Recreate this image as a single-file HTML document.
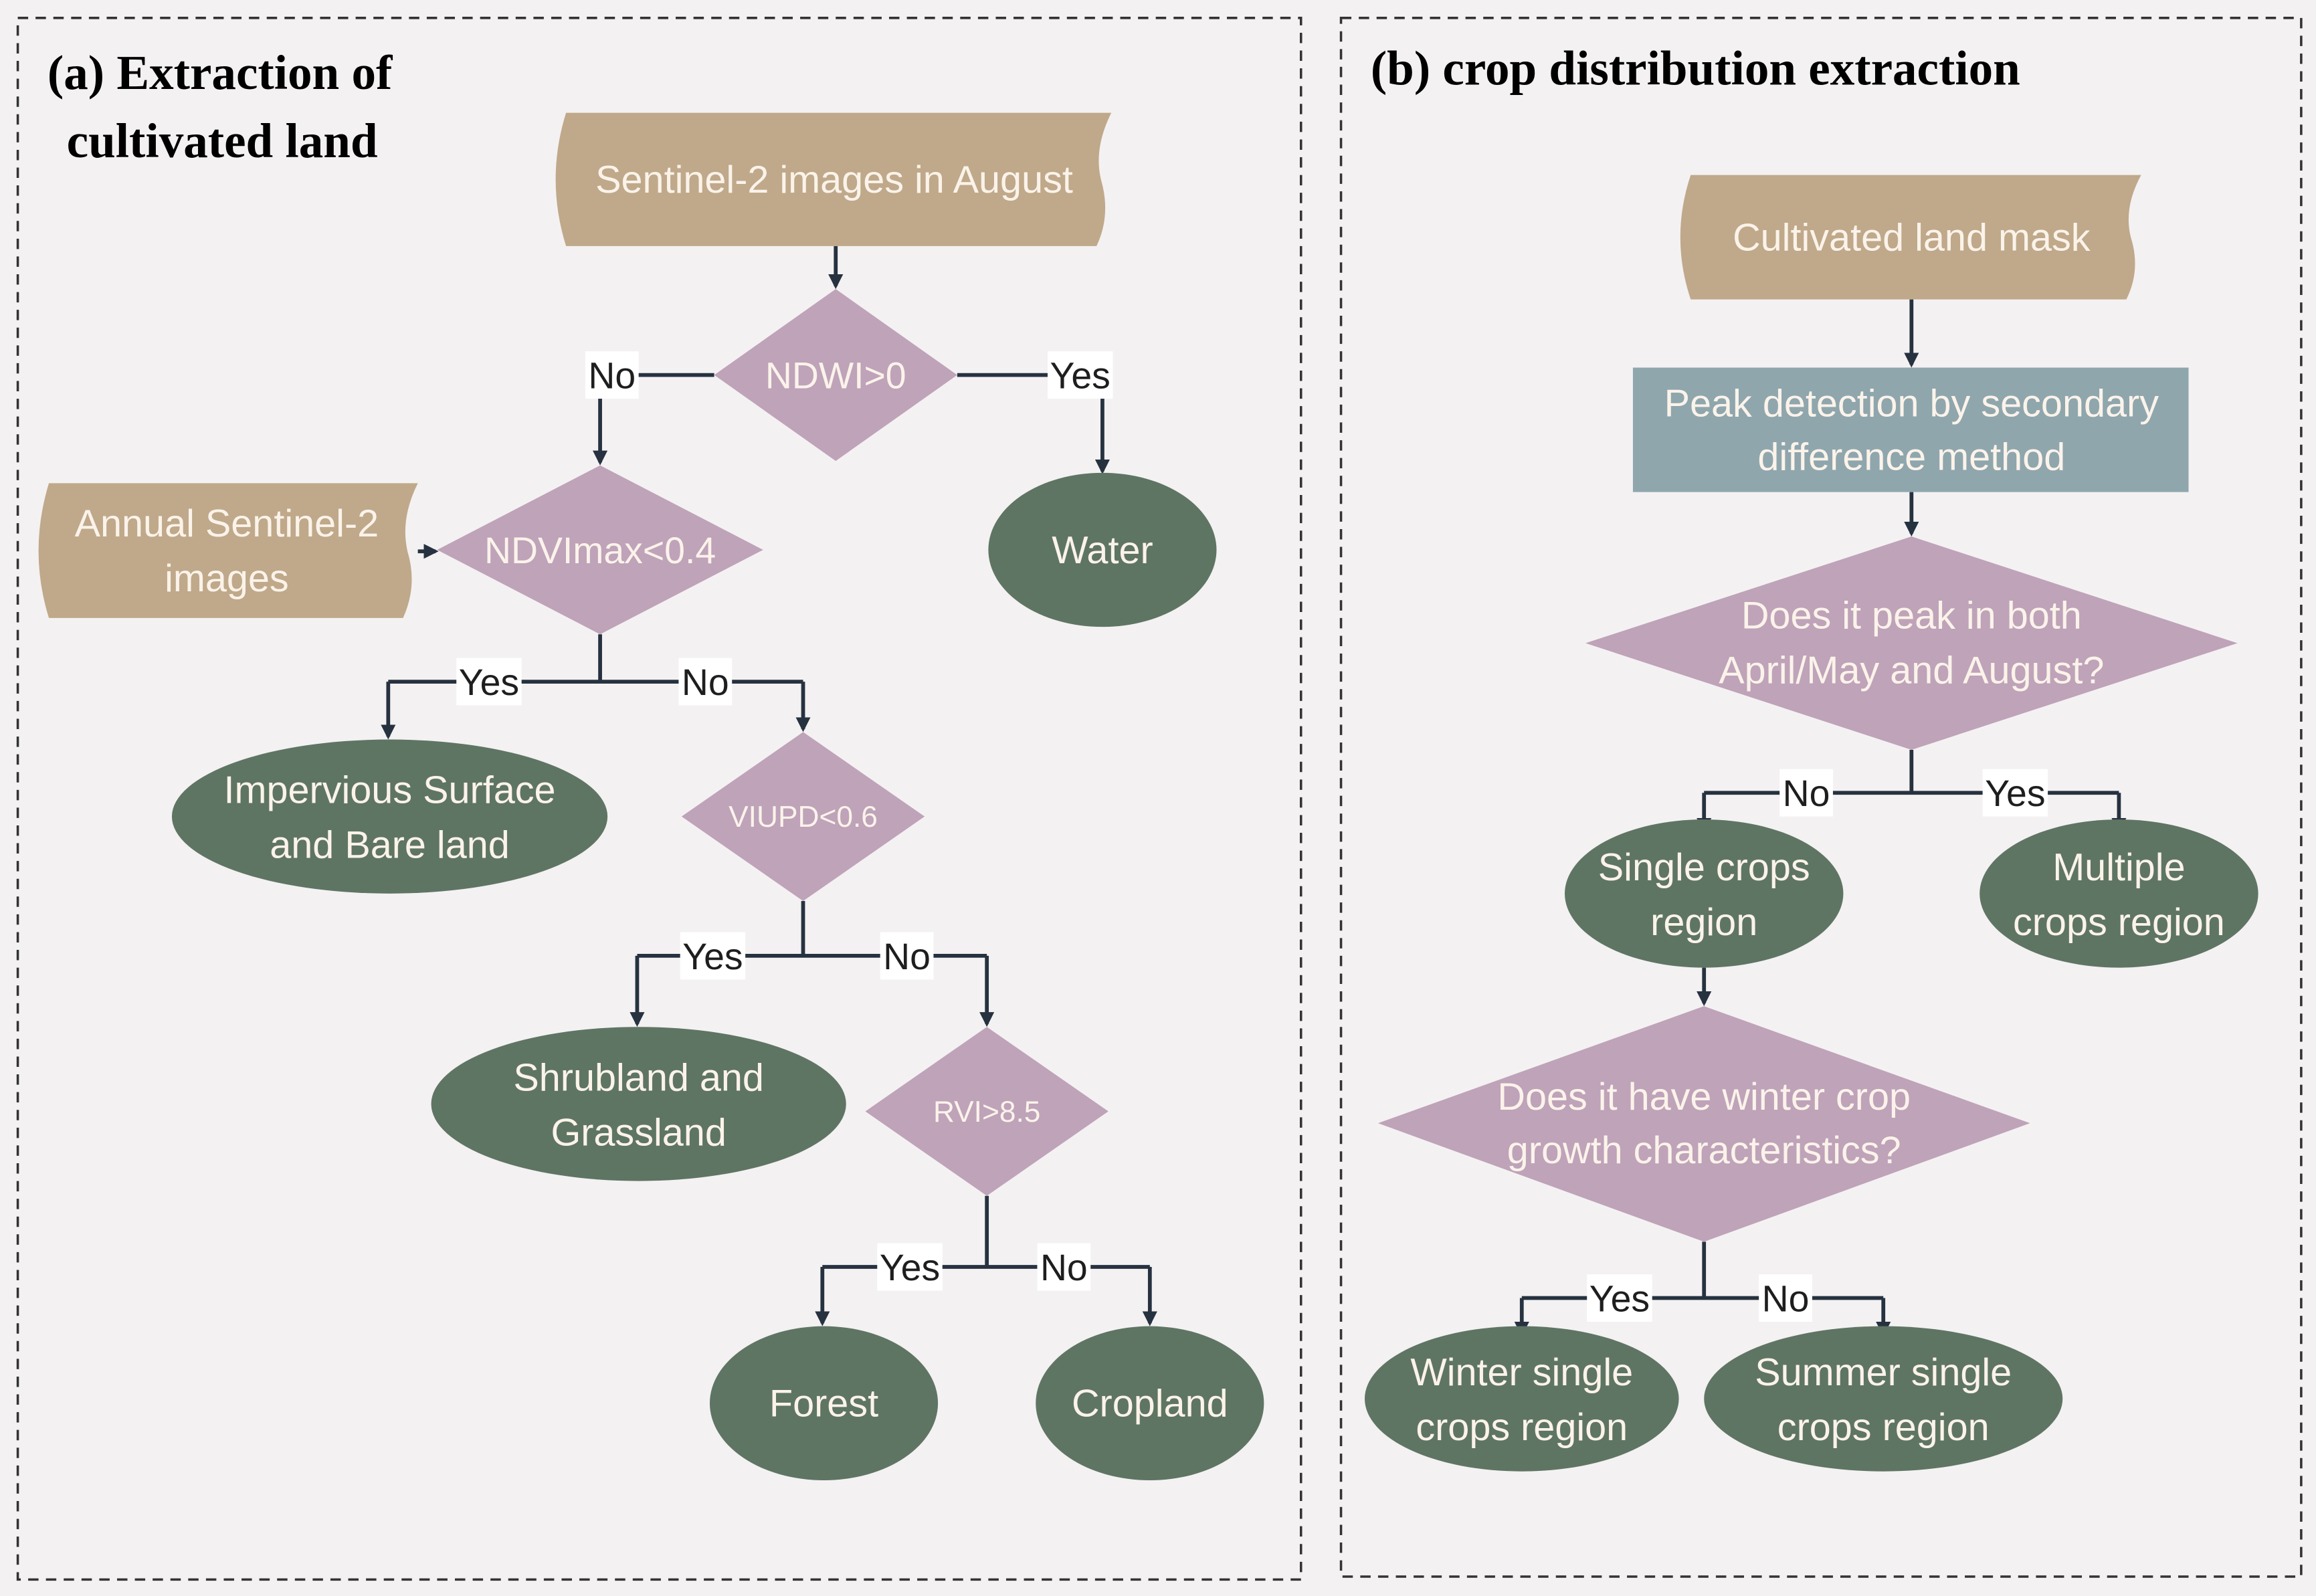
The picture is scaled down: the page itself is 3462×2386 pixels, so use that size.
<!DOCTYPE html>
<html><head><meta charset="utf-8"><style>
html,body{margin:0;padding:0;background:#f4f1f2;}
svg{display:block;}
.t{font-family:"Liberation Sans",sans-serif;fill:#fbf3ea;text-anchor:middle;}
.l{font-family:"Liberation Sans",sans-serif;fill:#1e1e1e;text-anchor:middle;font-size:25px;}
.h{font-family:"Liberation Serif",serif;font-weight:bold;fill:#000;font-size:33px;}
.c{stroke:#263240;stroke-width:2.6;fill:none;}
</style></head><body>
<svg width="3462" height="2386" viewBox="0 0 1563 1077" xmlns="http://www.w3.org/2000/svg">
<defs><marker id="a" markerWidth="10" markerHeight="10" refX="8" refY="5" orient="auto" markerUnits="userSpaceOnUse"><path d="M0,0 L10,5 L0,10 Z" fill="#263240"/></marker></defs>
<rect width="1563" height="1077" fill="#f4f1f2"/>
<rect x="12" y="12" width="866" height="1054" fill="none" stroke="#333" stroke-width="1.6" stroke-dasharray="7,5"/>
<rect x="905" y="12" width="648" height="1052" fill="none" stroke="#333" stroke-width="1.6" stroke-dasharray="7,5"/>
<text class="h" x="32" y="60">(a) Extraction of</text>
<text class="h" x="45" y="106">cultivated land</text>
<text class="h" x="925" y="57">(b) crop distribution extraction</text>

<!-- connectors a -->
<g class="c">
<path d="M564,166 L564,193" marker-end="url(#a)"/>
<path d="M482,253 L405,253 L405,312" marker-end="url(#a)"/>
<path d="M646,253 L744,253 L744,318" marker-end="url(#a)"/>
<path d="M282,372 L294,372" marker-end="url(#a)"/>
<path d="M405,428 L405,460 M262,460 L542,460"/>
<path d="M262,460 L262,497" marker-end="url(#a)"/>
<path d="M542,460 L542,492" marker-end="url(#a)"/>
<path d="M542,608 L542,645 M430,645 L666,645"/>
<path d="M430,645 L430,691" marker-end="url(#a)"/>
<path d="M666,645 L666,691" marker-end="url(#a)"/>
<path d="M666,807 L666,855 M555,855 L776,855"/>
<path d="M555,855 L555,893" marker-end="url(#a)"/>
<path d="M776,855 L776,893" marker-end="url(#a)"/>
<!-- b -->
<path d="M1290,202 L1290,246" marker-end="url(#a)"/>
<path d="M1290,332 L1290,360" marker-end="url(#a)"/>
<path d="M1290,506 L1290,535 M1150,535 L1430,535"/>
<path d="M1150,535 L1150,560" marker-end="url(#a)"/>
<path d="M1430,535 L1430,560" marker-end="url(#a)"/>
<path d="M1150,653 L1150,677" marker-end="url(#a)"/>
<path d="M1150,838 L1150,876 M1027,876 L1271,876"/>
<path d="M1027,876 L1027,900" marker-end="url(#a)"/>
<path d="M1271,876 L1271,900" marker-end="url(#a)"/>
</g>

<!-- documents -->
<path d="M382,76 L750,76 Q738,100 743,121 Q750,145 740,166 L382,166 Q368,121 382,76 Z" fill="#bfa98a"/>
<text class="t" x="563" y="130" font-size="26">Sentinel-2 images in August</text>
<path d="M33,326 L282,326 Q270,350 275,372 Q282,395 272,417 L33,417 Q19,372 33,326 Z" fill="#bfa98a"/>
<text class="t" x="153" y="362" font-size="26">Annual Sentinel-2</text>
<text class="t" x="153" y="399" font-size="26">images</text>
<path d="M1141,118 L1445,118 Q1433,140 1438,160 Q1445,182 1435,202 L1141,202 Q1127,160 1141,118 Z" fill="#bfa98a"/>
<text class="t" x="1290" y="169" font-size="26">Cultivated land mask</text>

<!-- diamonds -->
<g fill="#bfa3b9">
<path d="M564,195 L646,253 L564,311 L482,253 Z"/>
<path d="M405,314 L515,371 L405,428 L295,371 Z"/>
<path d="M542,494 L624,551 L542,608 L460,551 Z"/>
<path d="M666,693 L748,750 L666,807 L584,750 Z"/>
<path d="M1290,362 L1510,434 L1290,506 L1070,434 Z"/>
<path d="M1150,679 L1370,758 L1150,838 L930,758 Z"/>
</g>
<text class="t" x="564" y="262" font-size="25">NDWI&gt;0</text>
<text class="t" x="405" y="380" font-size="25">NDVImax&lt;0.4</text>
<text class="t" x="542" y="558" font-size="20">VIUPD&lt;0.6</text>
<text class="t" x="666" y="757" font-size="20">RVI&gt;8.5</text>
<text class="t" x="1290" y="424" font-size="26">Does it peak in both</text>
<text class="t" x="1290" y="461" font-size="26">April/May and August?</text>
<text class="t" x="1150" y="749" font-size="26">Does it have winter crop</text>
<text class="t" x="1150" y="785" font-size="26">growth characteristics?</text>

<!-- rect -->
<rect x="1102" y="248" width="375" height="84" fill="#8fa6ad"/>
<text class="t" x="1290" y="281" font-size="26">Peak detection by secondary</text>
<text class="t" x="1290" y="317" font-size="26">difference method</text>

<!-- ellipses -->
<g fill="#5f7564">
<ellipse cx="744" cy="371" rx="77" ry="52"/>
<ellipse cx="263" cy="551" rx="147" ry="52"/>
<ellipse cx="431" cy="745" rx="140" ry="52"/>
<ellipse cx="556" cy="947" rx="77" ry="52"/>
<ellipse cx="776" cy="947" rx="77" ry="52"/>
<ellipse cx="1150" cy="603" rx="94" ry="50"/>
<ellipse cx="1430" cy="603" rx="94" ry="50"/>
<ellipse cx="1027" cy="944" rx="106" ry="49"/>
<ellipse cx="1271" cy="944" rx="121" ry="49"/>
</g>
<text class="t" x="744" y="380" font-size="26">Water</text>
<text class="t" x="263" y="542" font-size="26">Impervious Surface</text>
<text class="t" x="263" y="579" font-size="26">and Bare land</text>
<text class="t" x="431" y="736" font-size="26">Shrubland and</text>
<text class="t" x="431" y="773" font-size="26">Grassland</text>
<text class="t" x="556" y="956" font-size="26">Forest</text>
<text class="t" x="776" y="956" font-size="26">Cropland</text>
<text class="t" x="1150" y="594" font-size="26">Single crops</text>
<text class="t" x="1150" y="631" font-size="26">region</text>
<text class="t" x="1430" y="594" font-size="26">Multiple</text>
<text class="t" x="1430" y="631" font-size="26">crops region</text>
<text class="t" x="1027" y="935" font-size="26">Winter single</text>
<text class="t" x="1027" y="972" font-size="26">crops region</text>
<text class="t" x="1271" y="935" font-size="26">Summer single</text>
<text class="t" x="1271" y="972" font-size="26">crops region</text>

<!-- labels -->
<g fill="#ffffff">
<rect x="395" y="237" width="36" height="32"/><rect x="707" y="237" width="44" height="32"/>
<rect x="308" y="444" width="44" height="32"/><rect x="458" y="444" width="36" height="32"/>
<rect x="459" y="629" width="44" height="32"/><rect x="594" y="629" width="36" height="32"/>
<rect x="592" y="839" width="44" height="32"/><rect x="700" y="839" width="36" height="32"/>
<rect x="1201" y="519" width="36" height="32"/><rect x="1338" y="519" width="44" height="32"/>
<rect x="1071" y="860" width="44" height="32"/><rect x="1187" y="860" width="36" height="32"/>
</g>
<text class="l" x="413" y="262">No</text><text class="l" x="729" y="262">Yes</text>
<text class="l" x="330" y="469">Yes</text><text class="l" x="476" y="469">No</text>
<text class="l" x="481" y="654">Yes</text><text class="l" x="612" y="654">No</text>
<text class="l" x="614" y="864">Yes</text><text class="l" x="718" y="864">No</text>
<text class="l" x="1219" y="544">No</text><text class="l" x="1360" y="544">Yes</text>
<text class="l" x="1093" y="885">Yes</text><text class="l" x="1205" y="885">No</text>
</svg>
</body></html>
